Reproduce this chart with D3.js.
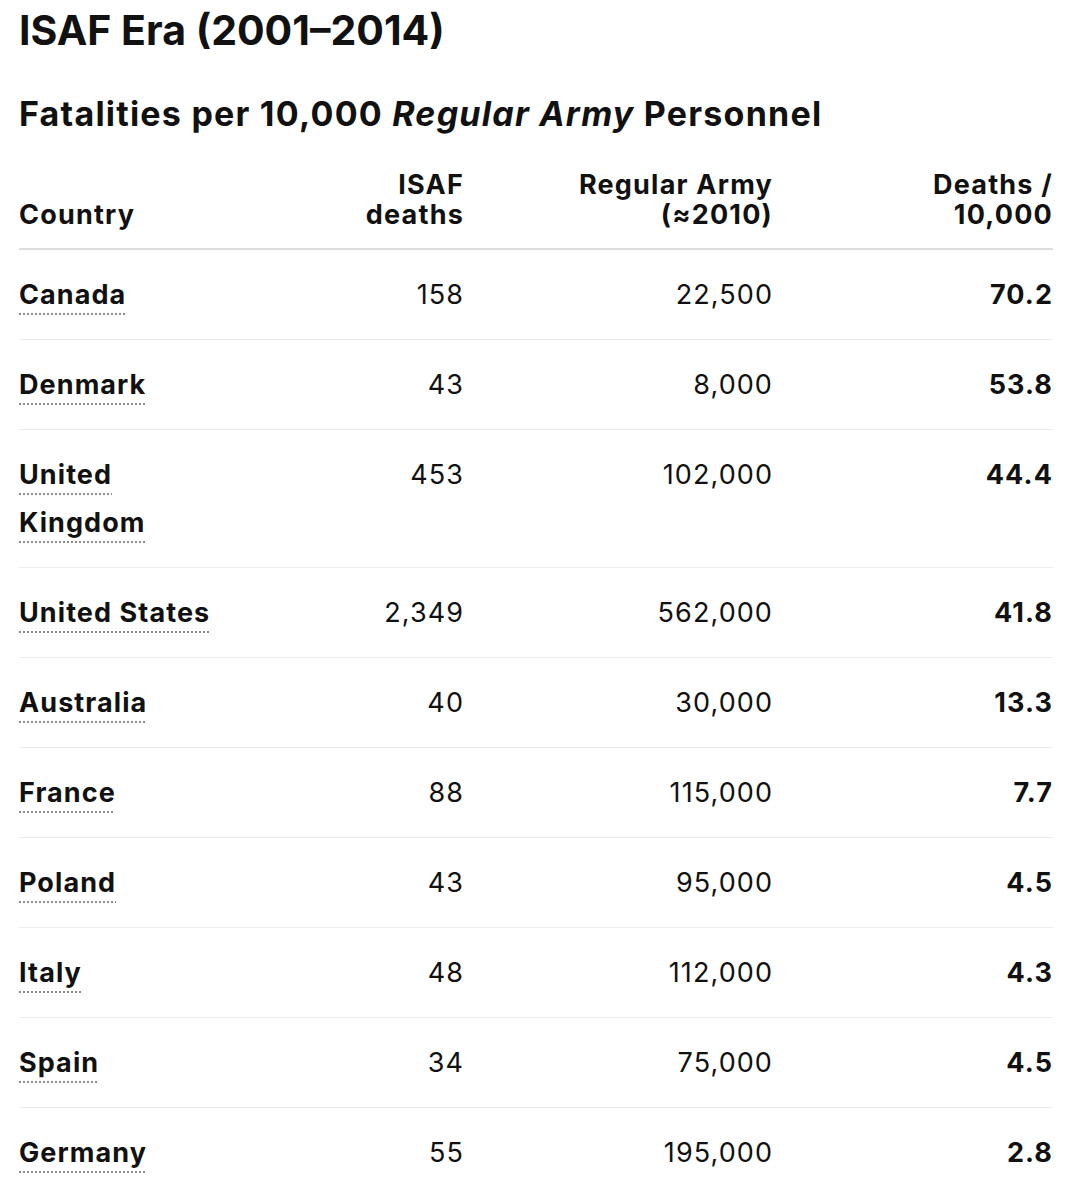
<!DOCTYPE html>
<html>
<head>
<meta charset="utf-8">
<script src="https://cdn.jsdelivr.net/npm/d3@7"></script>
<style>
body{margin:0;background:#fff;color:#111;font-family:Inter,"Noto Sans",sans-serif}
#wrap{position:absolute;left:19px;top:0;width:1034px}
h1{margin:0;position:absolute;top:5px;font-size:41px;font-weight:700;letter-spacing:0;white-space:nowrap}
h2{margin:0;position:absolute;top:93px;font-size:34px;font-weight:700;letter-spacing:0.036em;white-space:nowrap}
h2 i{font-style:italic}
table{position:absolute;top:170px;left:0;width:1034px;border-collapse:collapse;table-layout:fixed}
th{font-size:27px;font-weight:700;line-height:30px;padding:0 0 18px 0;vertical-align:bottom;border-bottom:2px solid #dcdcdc;letter-spacing:0.045em}
td{font-size:27px;line-height:48px;padding:21px 0 20px 0;vertical-align:top;border-bottom:1px solid #ececec;letter-spacing:0.04em}
tr:last-child td{border-bottom:none}
.l{text-align:left}
.r{text-align:right}
td.c span{font-weight:700;text-decoration:underline dotted #8a8a8a;text-decoration-thickness:2px;text-underline-offset:9px}
td.b{font-weight:700}
</style>
</head>
<body>
<div id="wrap"></div>
<script>
var countries=["Canada","Denmark","United Kingdom","United States","Australia","France","Poland","Italy","Spain","Germany"]
var isafDeaths=[158,43,453,2349,40,88,43,48,34,55]
var regularArmy=[22500,8000,102000,562000,30000,115000,95000,112000,75000,195000]
var deathsPer10k=[70.2,53.8,44.4,41.8,13.3,7.7,4.5,4.3,4.5,2.8]
var headers=[["Country"],["ISAF","deaths"],["Regular Army","(≈2010)"],["Deaths /","10,000"]]
var colWidths=[212,233,309,280]

var wrap=d3.select('#wrap')
wrap.append('h1').text('ISAF Era (2001–2014)')
var h2=wrap.append('h2')
h2.append('span').text('Fatalities per 10,000 ')
h2.append('i').text('Regular Army')
h2.append('span').text(' Personnel')

var table=wrap.append('table')
table.append('colgroup').selectAll('col')
    .data(colWidths)
    .enter().append('col')
    .style('width', function(d){return d+'px'})

var hr=table.append('thead').append('tr')
hr.selectAll('th')
    .data(headers)
    .enter().append('th')
    .attr('class', function(d,i){return i==0?'l':'r'})
    .html(function(d){return d.join('<br>')})

var fmt=d3.format(',')
var fmt1=d3.format('.1f')
var rows=countries.map(function(c,i){
    return [c, fmt(isafDeaths[i]), fmt(regularArmy[i]), fmt1(deathsPer10k[i])]
})

var tr=table.append('tbody').selectAll('tr')
    .data(rows)
    .enter().append('tr')
tr.selectAll('td')
    .data(function(d){return d})
    .enter().append('td')
    .attr('class', function(d,i){return i==0?'l c':(i==3?'r b':'r')})
    .each(function(d,i){
	var td=d3.select(this)
	if(i==0) td.append('span').text(d)
	else td.text(d)
    })
</script>
</body>
</html>
